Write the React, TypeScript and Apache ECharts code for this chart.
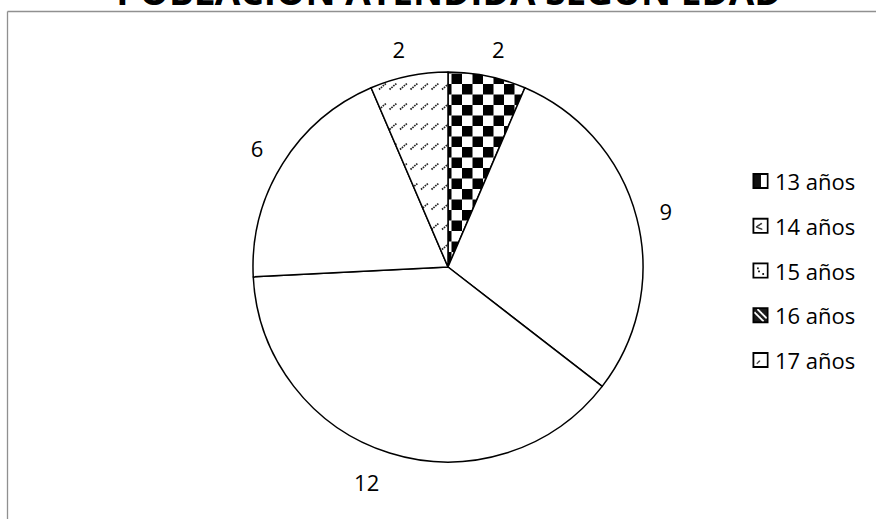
import React, { useEffect, useRef } from "react";
import * as echarts from "echarts";

const categories = ["13 años", "14 años", "15 años", "16 años", "17 años"];
const values = [2, 9, 12, 6, 2];
const titleText = "POBLACIÓN ATENDIDA SEGÚN EDAD";

// small nudges for the value labels (styling only)
const labelNudges: number[][] = [[5, 2], [0, 0], [-14, 0], [0, 0], [-4, 2]];

function makeCanvas(w: number, h: number, draw: (ctx: CanvasRenderingContext2D) => void) {
  const c = document.createElement("canvas");
  c.width = w;
  c.height = h;
  const ctx = c.getContext("2d") as CanvasRenderingContext2D;
  draw(ctx);
  return c;
}

function checkerPattern() {
  const c = makeCanvas(21, 21, (ctx) => {
    ctx.fillStyle = "#fff";
    ctx.fillRect(0, 0, 21, 21);
    ctx.fillStyle = "#000";
    ctx.fillRect(0, 0, 10.5, 10.5);
    ctx.fillRect(10.5, 10.5, 10.5, 10.5);
  });
  return {
    image: c.toDataURL(),
    repeat: "repeat",
    imageWidth: 21,
    imageHeight: 21,
    x: 8,
    y: 13.7,
  };
}

function hatchPattern() {
  const c = makeCanvas(21, 20, (ctx) => {
    ctx.fillStyle = "#fff";
    ctx.fillRect(0, 0, 21, 20);
    ctx.strokeStyle = "#222";
    ctx.lineWidth = 1.7;
    ctx.setLineDash([1.6, 0.9]);
    ctx.beginPath();
    ctx.moveTo(1, 9.5);
    ctx.lineTo(8.5, 3);
    ctx.moveTo(11.5, 9.5);
    ctx.lineTo(19, 3);
    ctx.stroke();
  });
  return {
    image: c.toDataURL(),
    repeat: "repeat",
    imageWidth: 21,
    imageHeight: 20,
    x: 3,
    y: 11,
  };
}

function legendIcon(kind: number) {
  const c = makeCanvas(26, 26, (ctx) => {
    ctx.fillStyle = "#fff";
    ctx.fillRect(0, 0, 26, 26);
    if (kind === 0) {
      ctx.fillStyle = "#111";
      ctx.fillRect(0, 0, 14, 26);
    } else if (kind === 1) {
      ctx.strokeStyle = "#333";
      ctx.lineWidth = 2.4;
      ctx.beginPath();
      ctx.moveTo(6, 15);
      ctx.lineTo(15, 9);
      ctx.moveTo(6, 15);
      ctx.lineTo(16, 19);
      ctx.stroke();
    } else if (kind === 2) {
      ctx.fillStyle = "#222";
      ctx.fillRect(7, 8, 3, 3);
      ctx.fillRect(9, 13, 3, 3);
      ctx.fillRect(16, 17, 3, 3);
    } else if (kind === 3) {
      ctx.fillStyle = "#1a1a1a";
      ctx.fillRect(0, 0, 26, 26);
      ctx.strokeStyle = "#fff";
      ctx.lineWidth = 3;
      ctx.beginPath();
      ctx.moveTo(3, 8);
      ctx.lineTo(18, 23);
      ctx.moveTo(8, 3);
      ctx.lineTo(23, 18);
      ctx.stroke();
    } else {
      ctx.strokeStyle = "#444";
      ctx.lineWidth = 2.4;
      ctx.beginPath();
      ctx.moveTo(7, 19);
      ctx.lineTo(12, 14);
      ctx.stroke();
    }
    ctx.strokeStyle = "#000";
    ctx.lineWidth = 3;
    ctx.strokeRect(1.5, 1.5, 23, 23);
  });
  return "image://" + c.toDataURL();
}

export default function App() {
  const ref = useRef<HTMLDivElement>(null);
  useEffect(() => {
    if (!ref.current) return;
    const chart = echarts.init(ref.current, undefined, { renderer: "svg" });
    const fills: any[] = [checkerPattern(), "#ffffff", "#ffffff", "#ffffff", hatchPattern()];
    const font = "Open Sans";
    chart.setOption({
      animation: false,
      backgroundColor: "#ffffff",
      legend: {
        orient: "vertical",
        left: 752.5,
        top: 169,
        padding: 0,
        itemWidth: 16,
        itemHeight: 16,
        itemGap: 20.75,
        selectedMode: false,
        data: categories.map((n, i) => ({ name: n, icon: legendIcon(i) })),
        textStyle: {
          fontFamily: font,
          fontSize: 22,
          color: "#000",
          lineHeight: 24,
          padding: [0, 0, 0, 1.5],
        },
      },
      graphic: [
        {
          type: "line",
          shape: { x1: 7.5, y1: 11.5, x2: 876, y2: 11.5 },
          style: { stroke: "#909090", lineWidth: 1.3 },
          silent: true,
        },
        {
          type: "line",
          shape: { x1: 7.5, y1: 11.5, x2: 7.5, y2: 519 },
          style: { stroke: "#909090", lineWidth: 1.3 },
          silent: true,
        },
        {
          type: "text",
          x: 449,
          y: -9.5,
          silent: true,
          style: {
            text: titleText,
            fontFamily: font,
            fontSize: 37,
            fontWeight: "bold",
            fill: "#000",
            align: "center",
            verticalAlign: "middle",
          },
        },
      ],
      series: [
        {
          type: "pie",
          center: [448, 267],
          radius: 195,
          startAngle: 90,
          clockwise: true,
          silent: true,
          data: categories.map((n, i) => ({ name: n, value: values[i], itemStyle: { color: fills[i] } })),
          itemStyle: { borderColor: "#000", borderWidth: 1.5 },
          label: { show: false },
          labelLine: { show: false },
          emphasis: { disabled: true },
        },
        {
          type: "pie",
          center: [448, 267],
          radius: [205, 239],
          startAngle: 90,
          clockwise: true,
          silent: true,
          data: categories.map((n, i) => ({
            name: n,
            value: values[i],
            label: { offset: labelNudges[i] },
          })),
          itemStyle: { color: "rgba(0,0,0,0)", borderWidth: 0 },
          label: {
            show: true,
            position: "inside",
            formatter: "{c}",
            fontFamily: font,
            fontSize: 22,
            color: "#000",
          },
          labelLine: { show: false },
          emphasis: { disabled: true },
        },
      ],
    });
    return () => chart.dispose();
  }, []);
  return (
    <div
      ref={ref}
      style={{ position: "fixed", left: 0, top: 0, width: 876, height: 519, background: "#fff" }}
    />
  );
}
